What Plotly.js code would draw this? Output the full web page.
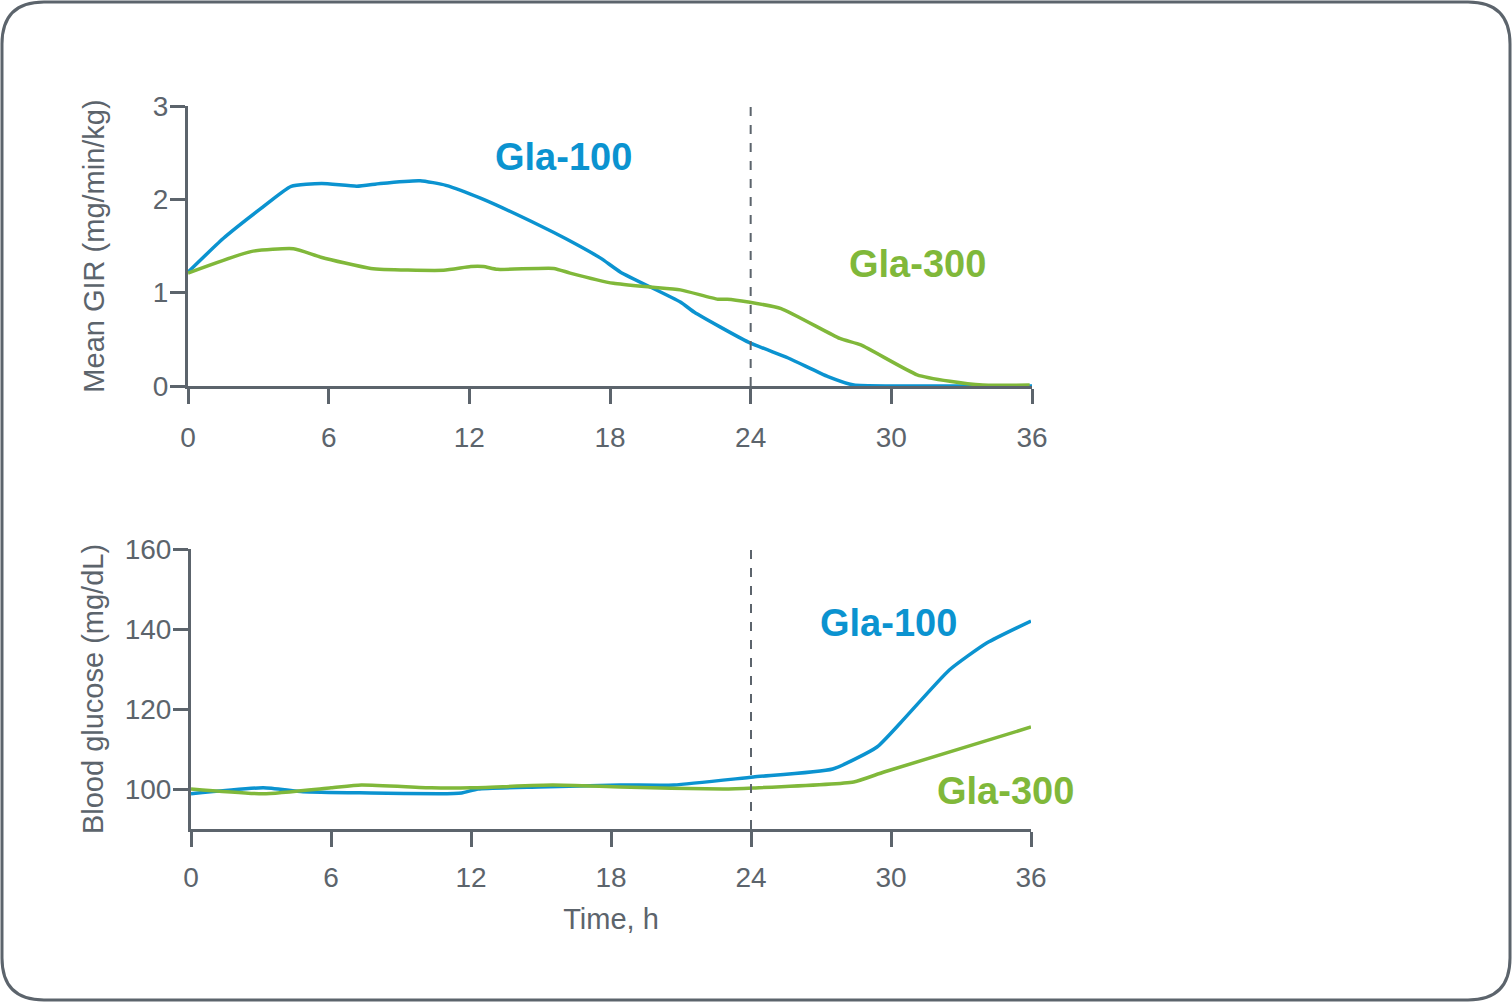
<!DOCTYPE html>
<html>
<head>
<meta charset="utf-8">
<script src="https://cdn.plot.ly/plotly-3.0.1.min.js"></script>
<style>
html,body{margin:0;padding:0;background:#fff;}
#chart{width:1512px;height:1002px;}
</style>
</head>
<body>
<div id="chart"></div>
<script>
// ---- Data ----
// Top panel: Mean GIR (mg/min/kg) vs time (h)
const girGla100Hours = [0, 1.5, 3.1, 4.4, 5.7, 7.2, 8.2, 9.9, 11.0, 12.5, 15.0, 16.1, 17.6, 18.45, 21.0, 21.6, 23.9, 25.6, 27.3, 28.4, 30, 33, 36];
const girGla100Values = [1.22, 1.58, 1.90, 2.14, 2.17, 2.14, 2.17, 2.20, 2.15, 2.01, 1.72, 1.58, 1.37, 1.22, 0.90, 0.79, 0.47, 0.30, 0.10, 0.01, 0, 0, 0];

const girGla300Hours = [0, 2.68, 4.5, 5.67, 7.8, 10.9, 12.06, 12.6, 13.2, 15.6, 16.3, 18.15, 19.7, 21.0, 22.6, 23.0, 23.9, 25.3, 27.8, 28.7, 31.1, 32.5, 33.9, 35.9];
const girGla300Values = [1.21, 1.44, 1.47, 1.38, 1.26, 1.24, 1.28, 1.28, 1.25, 1.26, 1.21, 1.10, 1.06, 1.03, 0.93, 0.93, 0.90, 0.83, 0.51, 0.44, 0.12, 0.05, 0.01, 0.01];

// Bottom panel: Blood glucose (mg/dL) vs time (h)
const bgGla100Hours = [0, 3.1, 4.8, 7.7, 10.6, 11.6, 12.3, 14.9, 18.4, 20.7, 24.1, 27.5, 29.4, 30.4, 32.5, 34.1, 36];
const bgGla100Values = [98.8, 100.3, 99.3, 99.0, 98.8, 99.0, 100.0, 100.5, 101.0, 101.0, 103.0, 105.0, 110.5, 116.5, 129.75, 136.5, 142.0];

const bgGla300Hours = [0, 3.1, 6.0, 7.3, 10.3, 12.0, 15.5, 18.4, 22.8, 24.1, 28.4, 29.7, 36];
const bgGla300Values = [100.0, 98.8, 100.3, 101.0, 100.3, 100.3, 101.0, 100.5, 100.0, 100.25, 101.75, 104.25, 115.5];

const xTicks = [0, 6, 12, 18, 24, 30, 36];
const girTicks = [0, 1, 2, 3];
const bgTicks = [100, 120, 140, 160];
const injectionWindowHour = 24;

// ---- Styles ----
const W = 1512, H = 1002;
const BLUE = '#0b93d0';
const GREEN = '#80b83a';
const GRAY = '#5c646c';
const FONT = 'Liberation Sans, Arial, sans-serif';
const TICK_SIZE = 28, TITLE_SIZE = 29, LABEL_SIZE = 38;

function px(x){ return x / W; }
function py(y){ return 1 - y / H; }

const traces = [
  {x: girGla100Hours, y: girGla100Values, xaxis: 'x', yaxis: 'y', mode: 'lines',
   line: {color: BLUE, width: 3.5, shape: 'spline', smoothing: 0.5}, name: 'Gla-100'},
  {x: girGla300Hours, y: girGla300Values, xaxis: 'x', yaxis: 'y', mode: 'lines',
   line: {color: GREEN, width: 3.5, shape: 'spline', smoothing: 0.5}, name: 'Gla-300'},
  {x: bgGla100Hours, y: bgGla100Values, xaxis: 'x2', yaxis: 'y2', mode: 'lines',
   line: {color: BLUE, width: 3.5, shape: 'spline', smoothing: 0.5}, name: 'Gla-100'},
  {x: bgGla300Hours, y: bgGla300Values, xaxis: 'x2', yaxis: 'y2', mode: 'lines',
   line: {color: GREEN, width: 3.5, shape: 'spline', smoothing: 0.5}, name: 'Gla-300'}
];

const axisCommon = {
  showgrid: false, zeroline: false, showline: true, linecolor: GRAY, linewidth: 3,
  ticks: 'outside', ticklen: 15, tickwidth: 3, tickcolor: GRAY,
  tickfont: {family: FONT, size: TICK_SIZE, color: GRAY}, fixedrange: true
};
const titleFont = {family: FONT, size: TITLE_SIZE, color: GRAY};

// rounded frame
const fx0 = 2, fy0 = 2, fx1 = 1510, fy1 = 1000, r = 42;
function P(x, y){ return px(x).toFixed(5) + ',' + py(y).toFixed(5); }
const framePath = 'M ' + P(fx0 + r, fy0) + ' L ' + P(fx1 - r, fy0) +
  ' Q ' + P(fx1, fy0) + ' ' + P(fx1, fy0 + r) +
  ' L ' + P(fx1, fy1 - r) + ' Q ' + P(fx1, fy1) + ' ' + P(fx1 - r, fy1) +
  ' L ' + P(fx0 + r, fy1) + ' Q ' + P(fx0, fy1) + ' ' + P(fx0, fy1 - r) +
  ' L ' + P(fx0, fy0 + r) + ' Q ' + P(fx0, fy0) + ' ' + P(fx0 + r, fy0) + ' Z';

const layout = {
  width: W, height: H,
  margin: {l: 0, r: 0, t: 0, b: 0},
  paper_bgcolor: '#ffffff', plot_bgcolor: 'rgba(0,0,0,0)',
  showlegend: false,
  font: {family: FONT, color: GRAY},
  xaxis: Object.assign({}, axisCommon, {
    domain: [px(188), px(1032)], range: [0, 36], tickvals: xTicks, anchor: 'y',
    ticklabelstandoff: 9
  }),
  yaxis: Object.assign({}, axisCommon, {
    domain: [py(386), py(106)], range: [0, 3], tickvals: girTicks, anchor: 'x',
    ticklabelstandoff: -4,
    title: {text: 'Mean GIR (mg/min/kg)', font: titleFont, standoff: 40}
  }),
  xaxis2: Object.assign({}, axisCommon, {
    domain: [px(191), px(1031)], range: [0, 36], tickvals: xTicks, anchor: 'y2',
    ticklabelstandoff: 6,
    title: {text: 'Time, h', font: titleFont, standoff: 18}
  }),
  yaxis2: Object.assign({}, axisCommon, {
    domain: [py(829), py(549)], range: [90, 160], tickvals: bgTicks, anchor: 'x2',
    ticklabelstandoff: -4,
    title: {text: 'Blood glucose (mg/dL)', font: titleFont, standoff: 13}
  }),
  shapes: [
    {type: 'line', xref: 'x', yref: 'y', x0: injectionWindowHour, x1: injectionWindowHour, y0: 0, y1: 3,
     line: {color: GRAY, width: 2, dash: 'dash'}},
    {type: 'line', xref: 'x2', yref: 'y2', x0: injectionWindowHour, x1: injectionWindowHour, y0: 90, y1: 160.75,
     line: {color: GRAY, width: 2, dash: 'dash'}},
    {type: 'path', xref: 'paper', yref: 'paper', path: framePath,
     line: {color: GRAY, width: 3}, fillcolor: 'rgba(0,0,0,0)'}
  ],
  annotations: [
    {xref: 'x', yref: 'y', x: 16.0, y: 2.45, text: '<b>Gla-100</b>', showarrow: false,
     font: {family: FONT, size: LABEL_SIZE, color: BLUE}},
    {xref: 'x', yref: 'y', x: 31.1, y: 1.31, text: '<b>Gla-300</b>', showarrow: false,
     font: {family: FONT, size: LABEL_SIZE, color: GREEN}},
    {xref: 'x2', yref: 'y2', x: 29.9, y: 141.5, text: '<b>Gla-100</b>', showarrow: false,
     font: {family: FONT, size: LABEL_SIZE, color: BLUE}},
    {xref: 'x2', yref: 'y2', x: 34.9, y: 99.5, text: '<b>Gla-300</b>', showarrow: false,
     font: {family: FONT, size: LABEL_SIZE, color: GREEN}}
  ]
};

Plotly.newPlot('chart', traces, layout, {displayModeBar: false, staticPlot: true});
</script>
</body>
</html>
